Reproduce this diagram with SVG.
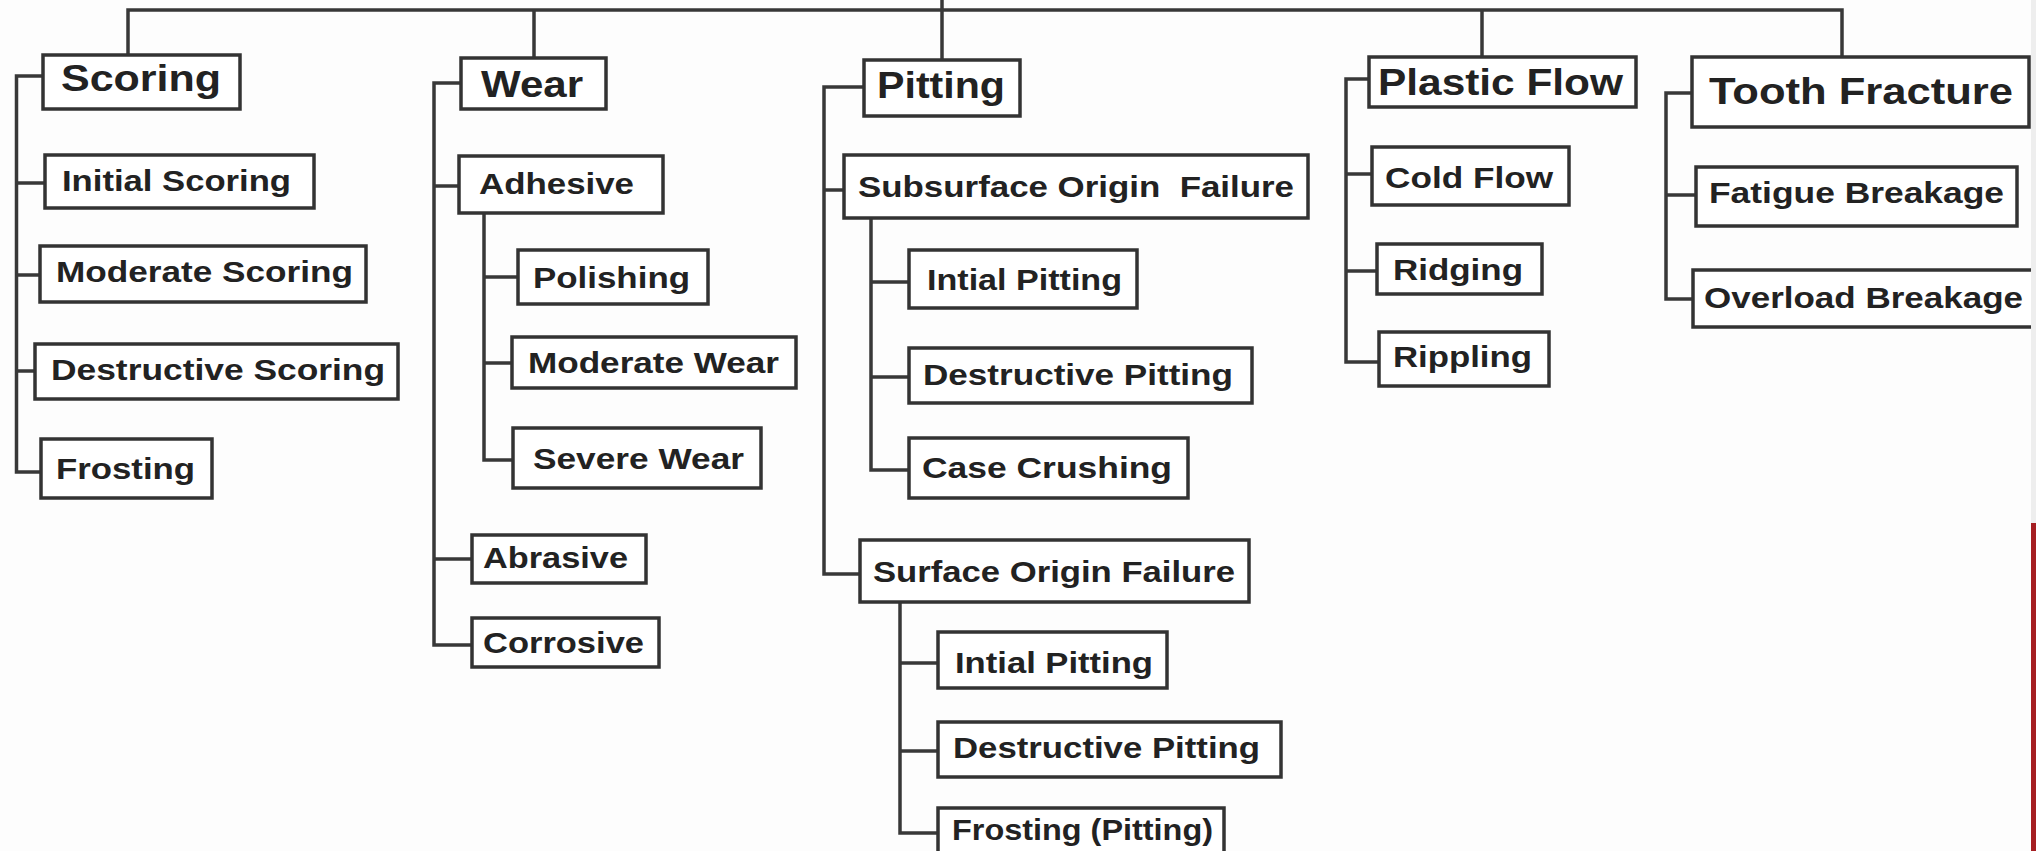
<svg xmlns="http://www.w3.org/2000/svg" width="2036" height="851" viewBox="0 0 2036 851">
<style>
.b{fill:#fff;stroke:#333;stroke-width:3.5}
.c{fill:none;stroke:#383838;stroke-width:3.5}
.t{font-family:"Liberation Sans",Arial,sans-serif;font-weight:bold;fill:#222;font-size:30px}
.m{font-size:36px}
</style>
<rect width="2036" height="851" fill="#fdfdfd"/>
<g id="connectors" class="c">
<path d="M128,55 V10 H1842 V57 M534,10 V58 M942,0 V60 M1482,10 V57"/>
<path d="M43,76 H16.5 V472 H41 M16.5,183 H45 M16.5,275 H40 M16.5,371 H35"/>
<path d="M461,83 H434 V645 H472 M434,186 H459 M434,559 H472"/>
<path d="M484,213 V460 H513 M484,277 H518 M484,363 H512"/>
<path d="M864,87 H824 V574 H860 M824,190 H844"/>
<path d="M871,218 V470 H909 M871,282 H909 M871,377 H909"/>
<path d="M900,602 V833 H938 M900,663 H938 M900,751 H938"/>
<path d="M1369,79 H1346 V362 H1379 M1346,174 H1372 M1346,271 H1377"/>
<path d="M1692,93 H1666 V299 H1693 M1666,195 H1696"/>
</g>
<g id="scoring"><rect class="b" x="43" y="55" width="197" height="54"/><text class="t m" x="61" y="91" textLength="160" lengthAdjust="spacingAndGlyphs">Scoring</text></g>
<g id="initial-scoring"><rect class="b" x="45" y="155" width="269" height="53"/><text class="t" x="62" y="191" textLength="229" lengthAdjust="spacingAndGlyphs">Initial Scoring</text></g>
<g id="moderate-scoring"><rect class="b" x="40" y="246" width="326" height="56"/><text class="t" x="56" y="282" textLength="297" lengthAdjust="spacingAndGlyphs">Moderate Scoring</text></g>
<g id="destructive-scoring"><rect class="b" x="35" y="344" width="363" height="55"/><text class="t" x="51" y="380" textLength="334" lengthAdjust="spacingAndGlyphs">Destructive Scoring</text></g>
<g id="frosting"><rect class="b" x="41" y="439" width="171" height="59"/><text class="t" x="56" y="479" textLength="139" lengthAdjust="spacingAndGlyphs">Frosting</text></g>
<g id="wear"><rect class="b" x="461" y="58" width="145" height="51"/><text class="t m" x="481" y="97" textLength="102" lengthAdjust="spacingAndGlyphs">Wear</text></g>
<g id="adhesive"><rect class="b" x="459" y="156" width="204" height="57"/><text class="t" x="479" y="194" textLength="155" lengthAdjust="spacingAndGlyphs">Adhesive</text></g>
<g id="polishing"><rect class="b" x="518" y="250" width="190" height="54"/><text class="t" x="533" y="288" textLength="157" lengthAdjust="spacingAndGlyphs">Polishing</text></g>
<g id="moderate-wear"><rect class="b" x="512" y="337" width="284" height="51"/><text class="t" x="528" y="373" textLength="251" lengthAdjust="spacingAndGlyphs">Moderate Wear</text></g>
<g id="severe-wear"><rect class="b" x="513" y="428" width="248" height="60"/><text class="t" x="533" y="469" textLength="211" lengthAdjust="spacingAndGlyphs">Severe Wear</text></g>
<g id="abrasive"><rect class="b" x="472" y="535" width="174" height="48"/><text class="t" x="483" y="568" textLength="145" lengthAdjust="spacingAndGlyphs">Abrasive</text></g>
<g id="corrosive"><rect class="b" x="472" y="618" width="187" height="49"/><text class="t" x="483" y="653" textLength="161" lengthAdjust="spacingAndGlyphs">Corrosive</text></g>
<g id="pitting"><rect class="b" x="864" y="60" width="156" height="56"/><text class="t m" x="877" y="98" textLength="128" lengthAdjust="spacingAndGlyphs">Pitting</text></g>
<g id="subsurface-origin-failure"><rect class="b" x="844" y="155" width="464" height="63"/><text class="t" x="858" y="197" textLength="436" lengthAdjust="spacingAndGlyphs" xml:space="preserve">Subsurface Origin  Failure</text></g>
<g id="intial-pitting-1"><rect class="b" x="909" y="250" width="228" height="58"/><text class="t" x="927" y="290" textLength="195" lengthAdjust="spacingAndGlyphs">Intial Pitting</text></g>
<g id="destructive-pitting-1"><rect class="b" x="909" y="348" width="343" height="55"/><text class="t" x="923" y="385" textLength="310" lengthAdjust="spacingAndGlyphs">Destructive Pitting</text></g>
<g id="case-crushing"><rect class="b" x="909" y="438" width="279" height="60"/><text class="t" x="922" y="478" textLength="250" lengthAdjust="spacingAndGlyphs">Case Crushing</text></g>
<g id="surface-origin-failure"><rect class="b" x="860" y="540" width="389" height="62"/><text class="t" x="873" y="582" textLength="362" lengthAdjust="spacingAndGlyphs">Surface Origin Failure</text></g>
<g id="intial-pitting-2"><rect class="b" x="938" y="632" width="229" height="56"/><text class="t" x="955" y="673" textLength="198" lengthAdjust="spacingAndGlyphs">Intial Pitting</text></g>
<g id="destructive-pitting-2"><rect class="b" x="938" y="722" width="343" height="55"/><text class="t" x="953" y="758" textLength="307" lengthAdjust="spacingAndGlyphs">Destructive Pitting</text></g>
<g id="frosting-pitting"><rect class="b" x="938" y="808" width="286" height="60"/><text class="t" x="952" y="840" textLength="261" lengthAdjust="spacingAndGlyphs">Frosting (Pitting)</text></g>
<g id="plastic-flow"><rect class="b" x="1369" y="57" width="267" height="50"/><text class="t m" x="1378" y="95" textLength="245" lengthAdjust="spacingAndGlyphs">Plastic Flow</text></g>
<g id="cold-flow"><rect class="b" x="1372" y="147" width="197" height="58"/><text class="t" x="1385" y="188" textLength="168" lengthAdjust="spacingAndGlyphs">Cold Flow</text></g>
<g id="ridging"><rect class="b" x="1377" y="244" width="165" height="50"/><text class="t" x="1393" y="280" textLength="130" lengthAdjust="spacingAndGlyphs">Ridging</text></g>
<g id="rippling"><rect class="b" x="1379" y="332" width="170" height="54"/><text class="t" x="1393" y="367" textLength="139" lengthAdjust="spacingAndGlyphs">Rippling</text></g>
<g id="tooth-fracture"><rect class="b" x="1692" y="57" width="337" height="70"/><text class="t m" x="1709" y="104" textLength="304" lengthAdjust="spacingAndGlyphs">Tooth Fracture</text></g>
<g id="fatigue-breakage"><rect class="b" x="1696" y="167" width="321" height="59"/><text class="t" x="1709" y="203" textLength="295" lengthAdjust="spacingAndGlyphs">Fatigue Breakage</text></g>
<g id="overload-breakage"><rect class="b" x="1693" y="270" width="360" height="57"/><text class="t" x="1704" y="308" textLength="319" lengthAdjust="spacingAndGlyphs">Overload Breakage</text></g>
<rect x="2031" y="0" width="5" height="525" fill="#eeeeee"/>
<rect x="2031" y="523" width="5" height="328" fill="#a51e22"/>
</svg>
